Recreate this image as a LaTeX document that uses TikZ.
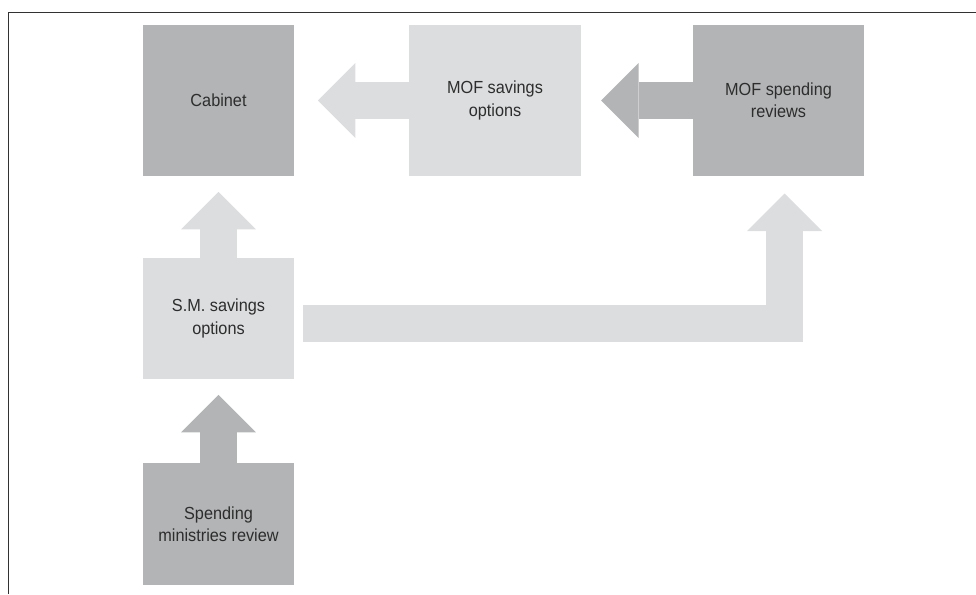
\documentclass[tikz,border=0pt]{standalone}
\usepackage{fontspec}
\setmainfont{Liberation Sans}[FakeStretch=0.93]
\usepackage{tikz}
\usetikzlibrary{
  arrows.meta
}
\definecolor{flowLight}{RGB}{220,221,223}
\definecolor{flowDark}{RGB}{179,180,182}
\definecolor{flowText}{RGB}{45,45,45}
\definecolor{flowFrame}{RGB}{50,50,50}
\tikzset{
  flowBox/.style={
    rectangle,
    draw=none,
    text=flowText,
    font=\fontsize{17.5}{22.4}\selectfont,
    align=center,
    inner sep=0pt
  },
  flowLightBox/.style={
    flowBox,
    fill=flowLight
  },
  flowDarkBox/.style={
    flowBox,
    fill=flowDark
  },
  fatArrow/.style={
    -{Triangle[width=75pt,length=37.5pt,line width=0pt]},
    line width=37.6pt,
    line cap=butt,
    line join=miter
  },
  lightArrow/.style={
    fatArrow,
    draw=flowLight
  },
  darkArrow/.style={
    fatArrow,
    draw=flowDark
  }
}

\begin{document}
\begin{tikzpicture}[x=1pt,y=-1pt]
  \useasboundingbox (0,0) rectangle (976,594);
  \draw[flowFrame, line width=1.5pt] (8.5,594) -- (8.5,12.5) -- (976,12.5);

  \node[flowDarkBox, minimum width=151pt, minimum height=151pt]
    (cabinet) at (218.5,100.5) {Cabinet};

  \node[flowLightBox, minimum width=172pt, minimum height=151pt]
    (mofsav) at (495,100.5) {MOF savings\\options};

  \node[flowDarkBox, minimum width=171pt, minimum height=151pt]
    (mofspend) at (778.5,100.5) {MOF spending\\reviews};

  \node[flowLightBox, minimum width=151pt, minimum height=121pt]
    (smopt) at (218.5,318.5) {S.M. savings\\options};

  \node[flowDarkBox, minimum width=151pt, minimum height=122pt]
    (spend) at (218.5,524) {Spending\\ministries review};

  \draw[lightArrow, shorten >=23.7pt] (mofsav) -- (cabinet);
  \draw[darkArrow, shorten >=20pt] (mofspend) -- (mofsav);
  \draw[lightArrow, shorten >=15.7pt] (smopt) -- (cabinet);
  \draw[darkArrow, shorten >=15.7pt] (spend) -- (smopt);
  \draw[lightArrow, shorten >=17.3pt]
    ([shift={(9,5)}]smopt.east) -| ([xshift=6pt]mofspend.south);
\end{tikzpicture}
\end{document}
